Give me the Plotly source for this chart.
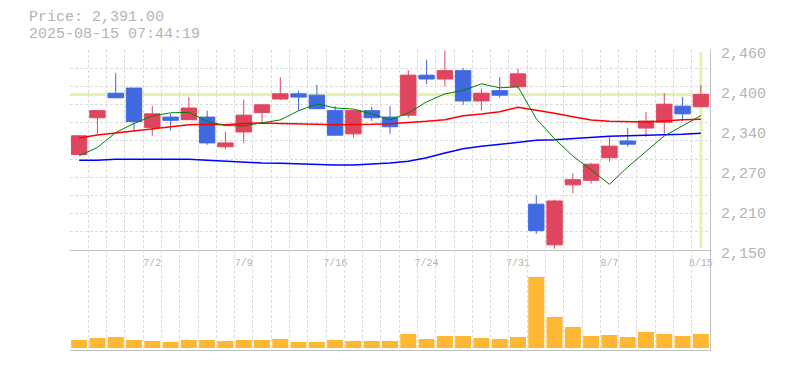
import plotly.graph_objects as go

# ---------------- data ----------------
dates = ["6/26", "6/27", "6/30", "7/1", "7/2", "7/3", "7/4", "7/7", "7/8", "7/9",
         "7/10", "7/11", "7/14", "7/15", "7/16", "7/17", "7/18", "7/22", "7/23", "7/24",
         "7/25", "7/28", "7/29", "7/30", "7/31", "8/1", "8/4", "8/5", "8/6", "8/7",
         "8/8", "8/12", "8/13", "8/14", "8/15"]

opens = [2298, 2355, 2393, 2401, 2340, 2356, 2352, 2356, 2310, 2333,
         2363, 2384, 2392, 2390, 2366, 2330, 2366, 2356, 2359, 2421,
         2415, 2428, 2381, 2397, 2403, 2221, 2158, 2251, 2258, 2293,
         2319, 2339, 2348, 2373, 2372]
highs = [2328, 2366, 2424, 2401, 2373, 2361, 2387, 2366, 2333, 2383,
         2376, 2418, 2397, 2406, 2373, 2366, 2372, 2373, 2429, 2445,
         2459, 2432, 2400, 2418, 2431, 2235, 2228, 2269, 2285, 2325,
         2339, 2364, 2393, 2387, 2406]
lows = [2298, 2330, 2386, 2333, 2327, 2335, 2352, 2313, 2306, 2316,
        2346, 2382, 2366, 2369, 2327, 2324, 2350, 2330, 2355, 2407,
        2404, 2375, 2366, 2386, 2400, 2175, 2152, 2238, 2253, 2287,
        2310, 2325, 2330, 2350, 2372]
closes = [2327, 2366, 2386, 2349, 2361, 2351, 2370, 2316, 2316, 2359,
          2375, 2392, 2387, 2369, 2328, 2366, 2355, 2341, 2421, 2415,
          2428, 2381, 2393, 2390, 2423, 2180, 2226, 2259, 2283, 2311,
          2314, 2350, 2376, 2361, 2391]

ma_short = [2296, 2309, 2332, 2346, 2357.8, 2362.6, 2363.4, 2349.4, 2342.8, 2342.4,
            2347.2, 2351.6, 2365.8, 2376.4, 2370.2, 2368.4, 2361.0, 2351.8, 2362.2, 2379.6,
            2392.0, 2397.2, 2407.6, 2401.4, 2403.0, 2353.4, 2322.4, 2295.6, 2274.2, 2251.8,
            2278.6, 2303.4, 2326.8, 2342.4, 2358.4]
ma_mid = [2323.6, 2328.3, 2331.4, 2334.5, 2338.6, 2341.7, 2344.3, 2344.8, 2344.3, 2346.0,
          2347.0, 2346.0, 2346.0, 2345.0, 2344.3, 2344.3, 2344.8, 2345.8, 2347.4, 2349.4,
          2352.0, 2358.2, 2360.8, 2364.4, 2371.1, 2367.0, 2361.8, 2356.7, 2351.5, 2349.4,
          2348.4, 2348.4, 2350.0, 2352.0, 2352.5]
ma_long = [2289.0, 2289.0, 2290.5, 2290.5, 2290.5, 2290.5, 2290.5, 2289.0, 2287.4, 2286.4,
           2284.9, 2284.3, 2283.3, 2281.8, 2281.8, 2281.8, 2282.8, 2284.9, 2287.4, 2293.1,
           2300.4, 2307.1, 2310.7, 2313.8, 2317.4, 2320.0, 2321.0, 2323.1, 2324.6, 2326.2,
           2327.2, 2328.3, 2328.8, 2329.3, 2330.9]

volume = [240000, 300000, 330000, 240000, 210000, 180000, 240000, 240000, 210000, 240000,
          240000, 270000, 180000, 180000, 240000, 210000, 210000, 210000, 420000, 270000,
          360000, 360000, 300000, 270000, 330000, 2130000, 930000, 630000, 360000, 390000,
          330000, 480000, 420000, 360000, 420000]

x_tick_labels = ["7/2", "7/9", "7/16", "7/24", "7/31", "8/7", "8/15"]
price_ticks = [2150, 2212, 2274, 2336, 2398, 2460]
price_tick_labels = ["2,150", "2,210", "2,270", "2,340", "2,400", "2,460"]
last_price = 2391.00
title_price = "Price: 2,391.00"
title_time = "2025-08-15 07:44:19"

# ---------------- styles ----------------
RED = "#E0455F"
BLUE = "#4169E1"
VOL = "#FDB733"
GRID = "#dcdcdc"
AXIS = "#c0c0c0"
TXT = "#b4b4b4"
CROSS = "#e2f3ae"
FONT = "Liberation Mono, Courier New, monospace"

idx = list(range(len(dates)))
n = len(dates)
tick_pos = [dates.index(t) for t in x_tick_labels]
x_grid = [i - 0.5 for i in range(n + 1)]
y_lo, y_hi = price_ticks[0], price_ticks[-1]
y_grid = [y_lo + (y_hi - y_lo) * k / 11 for k in range(12)]
y_grid[-1] -= 0.01
y_grid[0] += 0.01

fig = go.Figure()
fig.add_trace(go.Scatter(x=idx, y=ma_long, mode="lines", line=dict(color="#0000ff", width=1.5),
                         xaxis="x", yaxis="y", hoverinfo="skip"))
fig.add_trace(go.Scatter(x=idx, y=ma_mid, mode="lines", line=dict(color="#ff0000", width=1.5),
                         xaxis="x", yaxis="y", hoverinfo="skip"))
fig.add_trace(go.Scatter(x=idx, y=ma_short, mode="lines", line=dict(color="#008000", width=1),
                         xaxis="x", yaxis="y", hoverinfo="skip"))
fig.add_trace(go.Candlestick(
    x=idx, open=opens, high=highs, low=lows, close=closes,
    increasing=dict(line=dict(color=RED, width=1), fillcolor=RED),
    decreasing=dict(line=dict(color=BLUE, width=1), fillcolor=BLUE),
    whiskerwidth=0, xaxis="x", yaxis="y"))
fig.add_trace(go.Bar(x=idx, y=volume, marker=dict(color=VOL, line=dict(width=0)),
                     xaxis="x2", yaxis="y2"))

minor_x = dict(tickmode="array", tickvals=x_grid, showgrid=True, gridcolor=GRID,
               griddash="3px,2px", gridwidth=1, ticks="")

# the page body adds an 8px offset, so the figure is sized to compensate
OFF = 8
PLOT_W, PLOT_H = 640, 300
ML, MR, MT, MB = 70 - OFF, 75 - OFF, 50 - OFF, 20 - OFF

fig.update_layout(
    width=ML + PLOT_W + MR, height=MT + PLOT_H + MB,
    margin=dict(l=ML, r=MR, t=MT, b=MB, autoexpand=False),
    paper_bgcolor="white", plot_bgcolor="white",
    showlegend=False, boxgap=0.16, boxgroupgap=0, bargap=0.125,
    xaxis=dict(domain=[0, 1], anchor="y", range=[-0.5, n - 0.5],
               rangeslider=dict(visible=False),
               tickmode="array", tickvals=tick_pos, ticktext=x_tick_labels,
               showgrid=False, zeroline=False, ticks="", ticklabelstandoff=3,
               showline=True, linecolor=AXIS, linewidth=1,
               tickfont=dict(family=FONT, size=10, color=TXT),
               minor=minor_x),
    xaxis2=dict(domain=[0, 1], anchor="y2", matches="x", range=[-0.5, n - 0.5],
                showticklabels=False, showgrid=False, zeroline=False, ticks="",
                showline=True, linecolor=AXIS, linewidth=1,
                minor=minor_x),
    yaxis=dict(domain=[1 / 3, 1], anchor="x", side="right", range=[y_lo, y_hi],
               tickmode="array", tickvals=price_ticks, ticktext=price_tick_labels,
               showgrid=False, zeroline=False, ticks="", ticklabelstandoff=7,
               ticklabelshift=3,
               showline=True, linecolor=AXIS, linewidth=1,
               tickfont=dict(family=FONT, size=15, color=TXT),
               minor=dict(tickmode="array", tickvals=y_grid, showgrid=True, gridcolor=GRID,
                          griddash="3px,2px", gridwidth=1, ticks="")),
    yaxis2=dict(domain=[0, 1 / 3], anchor="x2", side="right", range=[-60000, 2940000],
                showticklabels=False, showgrid=False, zeroline=False, ticks="",
                showline=True, linecolor=AXIS, linewidth=1),
    shapes=[
        dict(type="line", xref="paper", yref="y", x0=0, x1=1, y0=last_price, y1=last_price,
             line=dict(color=CROSS, width=3), layer="below"),
        dict(type="line", xref="x", yref="paper", x0=n - 1, x1=n - 1,
             y0=1 / 3 + 0.008, y1=0.993,
             line=dict(color=CROSS, width=3), layer="below"),
    ],
    annotations=[
        dict(text=title_price, xref="paper", yref="paper", x=-43 / PLOT_W, y=(350 - 17.5) / PLOT_H,
             xanchor="left", yanchor="middle", showarrow=False,
             font=dict(family=FONT, size=15, color=TXT)),
        dict(text=title_time, xref="paper", yref="paper", x=-43 / PLOT_W, y=(350 - 34.5) / PLOT_H,
             xanchor="left", yanchor="middle", showarrow=False,
             font=dict(family=FONT, size=15, color=TXT)),
    ],
)

fig.write_html("out.html")
